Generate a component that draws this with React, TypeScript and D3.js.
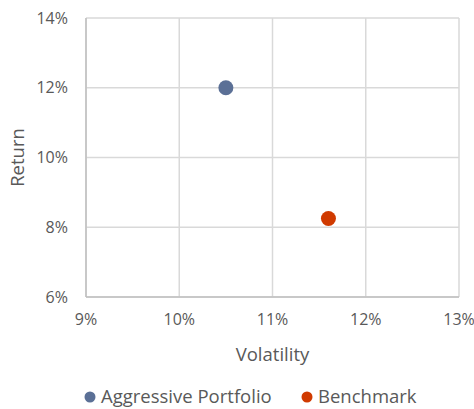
import { scaleLinear } from "d3";

const W = 474;
const H = 409;
const M = { top: 18, right: 15, bottom: 112, left: 86 };

const seriesNames = ["Aggressive Portfolio", "Benchmark"];
const volatility = [10.5, 11.6];
const returns = [12, 8.25];
const colors = ["#5b7096", "#d03a00"];
const xTicks = [9, 10, 11, 12, 13];
const yTicks = [6, 8, 10, 12, 14];

const FONT = "'Open Sans', sans-serif";
const INK = "#595959";

export default function App() {
  const x = scaleLinear().domain([9, 13]).range([M.left, W - M.right]);
  const y = scaleLinear().domain([6, 14]).range([H - M.bottom, M.top]);
  const legendX = [90, 307];

  return (
    <svg width={W} height={H} style={{ position: "absolute", left: 0, top: 0 }} fontFamily={FONT}>
      <rect width={W} height={H} fill="#fff" />
      {yTicks.map((t) => (
        <g key={`y${t}`}>
          <line x1={x(9)} x2={x(13)} y1={y(t)} y2={y(t)} stroke="#d9d9d9" strokeWidth={1.5} />
          <text x={68} y={y(t)} dy="0.35em" textAnchor="end" fontSize={16} fill={INK}>
            {t}%
          </text>
        </g>
      ))}
      {xTicks.map((t) => (
        <g key={`x${t}`}>
          <line x1={x(t)} x2={x(t)} y1={y(6)} y2={y(14)} stroke="#d9d9d9" strokeWidth={1.5} />
          <text x={x(t)} y={319} dy="0.35em" textAnchor="middle" fontSize={16} fill={INK}>
            {t}%
          </text>
        </g>
      ))}
      <line x1={x(9)} x2={x(9)} y1={y(6)} y2={y(14)} stroke="#bfbfbf" strokeWidth={1.5} />
      <line x1={x(9)} x2={x(13)} y1={y(6)} y2={y(6)} stroke="#bfbfbf" strokeWidth={1.5} />
      {volatility.map((v, i) => (
        <circle key={seriesNames[i]} cx={x(v)} cy={y(returns[i])} r={7.5} fill={colors[i]} />
      ))}
      <text x={(x(9) + x(13)) / 2} y={355} dy="0.35em" textAnchor="middle" fontSize={18.5} fill={INK}>
        Volatility
      </text>
      <text
        transform={`translate(18,${(y(6) + y(14)) / 2}) rotate(-90)`}
        dy="0.35em"
        textAnchor="middle"
        fontSize={18.5}
        fill={INK}
      >
        Return
      </text>
      {seriesNames.map((name, i) => (
        <g key={name}>
          <circle cx={legendX[i]} cy={397} r={5.5} fill={colors[i]} />
          <text x={legendX[i] + 11} y={397} dy="0.35em" fontSize={18.5} fill={INK}>
            {name}
          </text>
        </g>
      ))}
    </svg>
  );
}
